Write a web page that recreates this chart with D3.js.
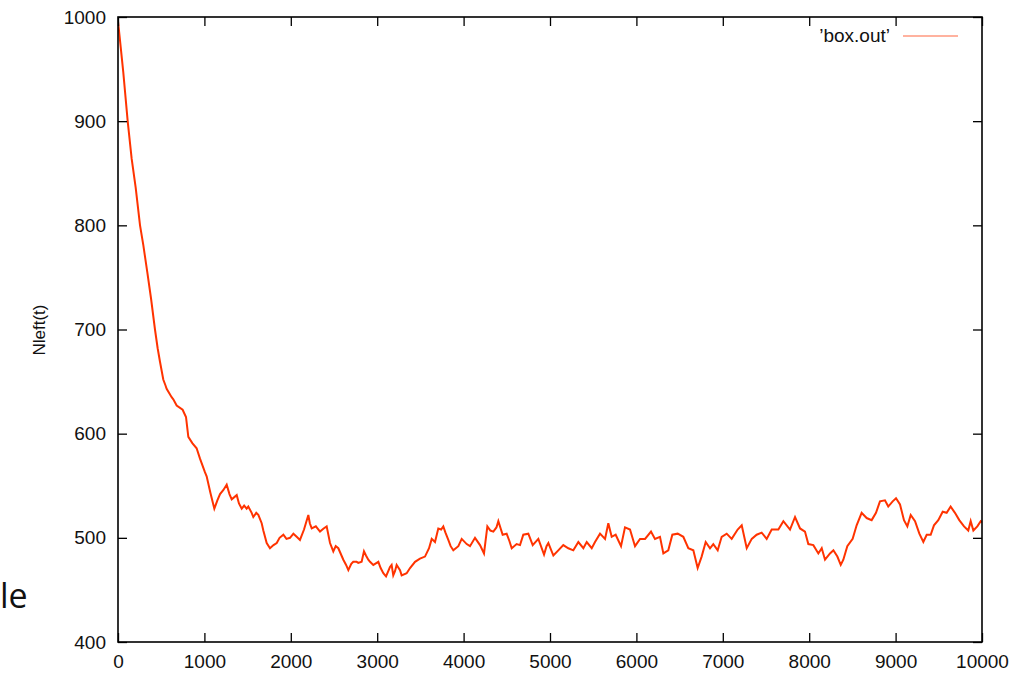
<!DOCTYPE html>
<html>
<head>
<meta charset="utf-8">
<script src="https://cdn.jsdelivr.net/npm/d3@7/dist/d3.min.js"></script>
<style>
  html, body { margin: 0; padding: 0; background: #fff; }
  svg { display: block; }
  .tick text { font-family: "Liberation Sans", Arial, Helvetica, sans-serif; font-size: 19px; fill: #111; }
</style>
</head>
<body>
<svg id="chart" width="1025" height="673"></svg>
<script>
// Simulation output: number of particles left in the box at step t
const steps = [
  0, 30, 61, 112, 158, 205, 255, 293, 339, 382, 428, 459, 486, 524, 551, 563, 621, 640, 679, 748,
  787, 814, 860, 910, 949, 1006, 1026, 1070, 1115, 1150, 1181, 1220, 1258, 1290, 1316, 1374, 1400, 1432, 1460, 1489,
  1508, 1547, 1566, 1600, 1624, 1663, 1682, 1721, 1759, 1800, 1837, 1870, 1914, 1950, 1991, 2030, 2068, 2106, 2153, 2203,
  2220, 2242, 2290, 2338, 2380, 2415, 2454, 2492, 2520, 2550, 2608, 2640, 2666, 2700, 2723, 2762, 2781, 2820, 2847, 2870,
  2897, 2917, 2955, 2994, 3013, 3040, 3071, 3102, 3148, 3167, 3186, 3206, 3225, 3264, 3283, 3341, 3380, 3438, 3495, 3553,
  3600, 3631, 3669, 3707, 3740, 3765, 3790, 3823, 3850, 3881, 3939, 3978, 4036, 4074, 4132, 4190, 4236, 4275, 4310, 4344,
  4380, 4402, 4452, 4498, 4530, 4557, 4614, 4653, 4691, 4749, 4800, 4865, 4931, 4960, 4981, 5039, 5096, 5154, 5212, 5270,
  5328, 5386, 5425, 5483, 5521, 5579, 5637, 5675, 5714, 5760, 5822, 5868, 5926, 5984, 6042, 6100, 6169, 6215, 6273, 6312,
  6369, 6416, 6478, 6543, 6601, 6659, 6709, 6755, 6802, 6852, 6890, 6941, 6987, 7045, 7103, 7172, 7219, 7277, 7335, 7392,
  7450, 7508, 7566, 7643, 7701, 7778, 7836, 7894, 7951, 7990, 8048, 8106, 8145, 8183, 8241, 8280, 8326, 8365, 8395, 8441,
  8503, 8549, 8607, 8665, 8723, 8773, 8819, 8877, 8915, 8966, 9005, 9051, 9097, 9136, 9175, 9225, 9275, 9321, 9360, 9406,
  9444, 9494, 9545, 9591, 9637, 9687, 9737, 9792, 9841, 9869, 9900, 9946, 9985, 10000
];
const nLeft = [
  996, 972, 947, 900, 864, 836, 800, 781, 755, 730, 700, 682, 669, 652, 646, 643, 635, 633, 627, 623,
  616, 597, 591, 586, 576, 563, 559, 543, 528, 536, 542, 546, 551, 542, 537, 541, 533, 528, 531, 528,
  530, 524, 520, 524, 522, 514, 507, 495, 490, 493, 495, 500, 503, 499, 500, 504, 501, 498, 508, 522,
  514, 509, 511, 506, 509, 511, 495, 487, 492, 490, 479, 474, 469, 475, 477, 477, 476, 477, 487, 483,
  479, 477, 474, 476, 477, 471, 466, 463, 472, 474, 464, 468, 474, 469, 464, 466, 471, 477, 480, 482,
  490, 499, 496, 509, 508, 511, 505, 498, 492, 488, 492, 499, 494, 492, 500, 493, 485, 511, 507, 506,
  510, 516, 503, 504, 497, 490, 494, 493, 503, 504, 493, 499, 484, 492, 495, 483, 488, 493, 490, 488,
  496, 490, 496, 490, 496, 504, 499, 514, 501, 503, 492, 510, 508, 492, 499, 499, 506, 499, 501, 485,
  488, 503, 504, 501, 490, 488, 471, 482, 496, 490, 494, 488, 501, 504, 499, 508, 512, 490, 499, 503,
  505, 499, 508, 508, 516, 508, 520, 509, 506, 494, 493, 485, 490, 479, 485, 488, 482, 474, 479, 492,
  499, 512, 524, 519, 517, 524, 535, 536, 530, 535, 538, 532, 517, 511, 522, 516, 504, 496, 503, 503,
  512, 517, 525, 524, 530, 524, 517, 511, 507, 516, 507, 511, 516, 515
];
const xTicks = [0, 1000, 2000, 3000, 4000, 5000, 6000, 7000, 8000, 9000, 10000];
const yTicks = [400, 500, 600, 700, 800, 900, 1000];
const seriesName = "\u2019box.out\u2019";
const yTitle = "Nleft(t)";

const svg = d3.select("#chart");
const plot = { left: 118, right: 982, top: 17, bottom: 642 };

const x = d3.scaleLinear().domain([0, 10000]).range([plot.left, plot.right]);
const y = d3.scaleLinear().domain([400, 1000]).range([plot.bottom, plot.top]);

const data = steps.map((t, i) => ({ t, v: nLeft[i] }));

// clip so the series stays inside the frame
svg.append("defs").append("clipPath").attr("id", "plot-clip")
  .append("rect")
  .attr("x", plot.left).attr("y", plot.top)
  .attr("width", plot.right - plot.left).attr("height", plot.bottom - plot.top);

// data line
svg.append("path")
  .datum(data)
  .attr("clip-path", "url(#plot-clip)")
  .attr("fill", "none")
  .attr("stroke", "#ff3300")
  .attr("stroke-width", 2)
  .attr("stroke-linejoin", "miter")
  .attr("d", d3.line().x(d => x(d.t)).y(d => y(d.v)));

// axes: ticks point inward on all four sides, labels only left and bottom
const tickLen = 9;
const plain = d3.format("d");
function styleAxis(g) {
  g.select(".domain").remove();
  g.selectAll(".tick line").attr("stroke", "#000").attr("stroke-width", 1.3);
}
svg.append("g")
  .attr("transform", `translate(${plot.left},0)`)
  .call(d3.axisLeft(y).tickValues(yTicks).tickFormat(plain).tickSize(-tickLen).tickPadding(12))
  .call(styleAxis);
svg.append("g")
  .attr("transform", `translate(${plot.right},0)`)
  .call(d3.axisRight(y).tickValues(yTicks).tickSize(-tickLen).tickFormat(""))
  .call(styleAxis);
svg.append("g")
  .attr("transform", `translate(0,${plot.bottom})`)
  .call(d3.axisBottom(x).tickValues(xTicks).tickFormat(plain).tickSize(-tickLen).tickPadding(13))
  .call(styleAxis);
svg.append("g")
  .attr("transform", `translate(0,${plot.top})`)
  .call(d3.axisTop(x).tickValues(xTicks).tickSize(-tickLen).tickFormat(""))
  .call(styleAxis);

// frame
svg.append("rect")
  .attr("x", plot.left).attr("y", plot.top)
  .attr("width", plot.right - plot.left).attr("height", plot.bottom - plot.top)
  .attr("fill", "none").attr("stroke", "#000").attr("stroke-width", 1.6);

// y-axis title
svg.append("text")
  .attr("transform", "translate(45,330) rotate(-90)")
  .attr("text-anchor", "middle")
  .attr("font-family", "Liberation Sans, Arial, Helvetica, sans-serif")
  .attr("font-size", 17)
  .attr("fill", "#111")
  .text(yTitle);

// key
svg.append("text")
  .attr("x", 890).attr("y", 42)
  .attr("text-anchor", "end")
  .attr("font-family", "Liberation Sans, Arial, Helvetica, sans-serif")
  .attr("font-size", 19)
  .attr("fill", "#111")
  .text(seriesName);
svg.append("line")
  .attr("x1", 903).attr("x2", 958).attr("y1", 36).attr("y2", 36)
  .attr("stroke", "#ff3300").attr("stroke-width", 1.2).attr("stroke-opacity", 0.75);

// caption fragment at the lower left edge
svg.append("text")
  .attr("x", 0).attr("y", 608)
  .attr("font-family", "Open Sans, Noto Sans, sans-serif")
  .attr("font-size", 34)
  .attr("fill", "#111")
  .text("le");
</script>
</body>
</html>
